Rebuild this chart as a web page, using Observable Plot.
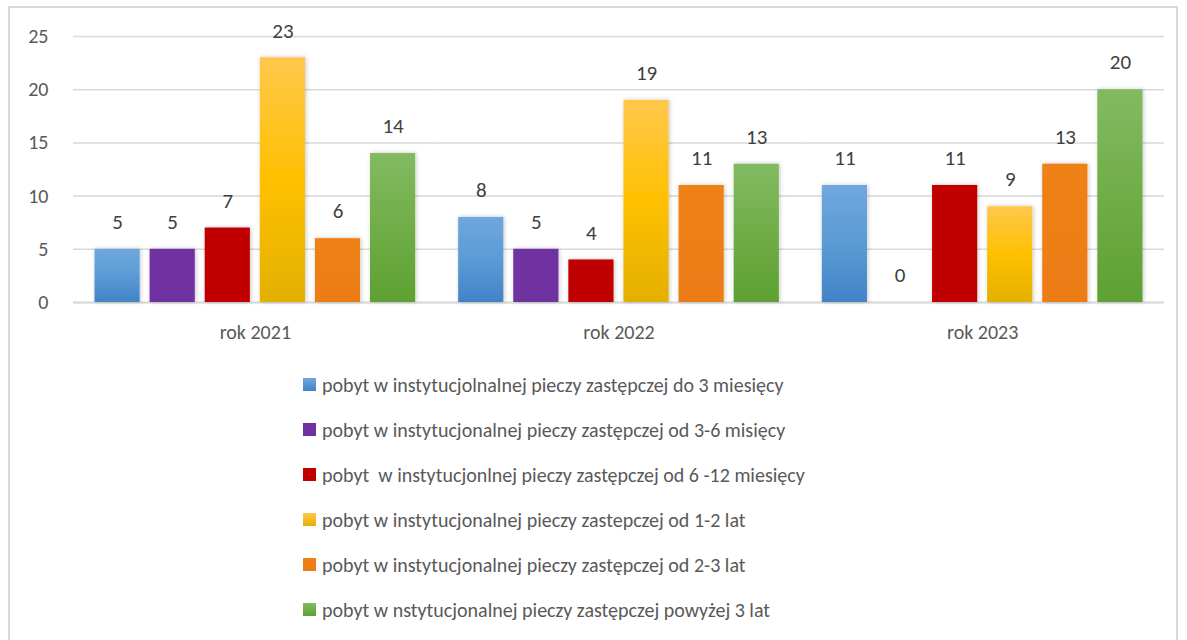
<!DOCTYPE html>
<html>
<head>
<meta charset="utf-8">
<script src="https://cdn.jsdelivr.net/npm/d3@7"></script>
<script src="https://cdn.jsdelivr.net/npm/@observablehq/plot@0.6"></script>
<style>
  html, body { margin: 0; padding: 0; background: #fff; }
  body { width: 1187px; height: 640px; position: relative; overflow: hidden;
         font-family: Carlito, Lato, "Open Sans", sans-serif; }
  #frame { position: absolute; left: 8px; top: 6px; width: 1170px; height: 700px;
           border: 2px solid #d9d9d9; box-sizing: border-box; }
  #chart { position: absolute; left: 0; top: 0; }
  #legend { position: absolute; left: 303px; top: 362px; }
  .row { height: 45px; display: flex; align-items: center; color: #595959; font-size: 20px; white-space: pre; }
  .sw { width: 13px; height: 13px; margin-right: 6px; flex: none; }
</style>
</head>
<body>
<div id="frame"></div>
<div id="chart"></div>
<div id="legend"></div>
<script>
const years = ["rok 2021", "rok 2022", "rok 2023"];
const seriesNames = [
  "pobyt w instytucjolnalnej pieczy zastępczej do 3 miesięcy",
  "pobyt w instytucjonalnej pieczy zastępczej od 3-6 misięcy",
  "pobyt  w instytucjonlnej pieczy zastępczej od 6 -12 miesięcy",
  "pobyt w instytucjonalnej pieczy zastepczej od 1-2 lat",
  "pobyt w instytucjonalnej pieczy zastępczej od 2-3 lat",
  "pobyt w nstytucjonalnej pieczy zastępczej powyżej 3 lat"
];
const values0 = [5, 8, 11];
const values1 = [5, 5, 0];
const values2 = [7, 4, 11];
const values3 = [23, 19, 9];
const values4 = [6, 11, 13];
const values5 = [14, 13, 20];
const yTicks = [0, 5, 10, 15, 20, 25];

const seriesValues = [values0, values1, values2, values3, values4, values5];
const gradients = [
  ["#70a7dd", "#5b9bd5", "#4283c7"],
  ["#7030a0", "#7030a0", "#7030a0"],
  ["#c00000", "#c00000", "#c00000"],
  ["#ffc84d", "#ffc000", "#e3b000"],
  ["#ef8119", "#ee7f17", "#ec7b14"],
  ["#83ba62", "#70ad47", "#5ea132"]
];

const data = [];
seriesNames.forEach((s, i) => {
  years.forEach((y, j) => data.push({year: y, series: s, si: i, value: seriesValues[i][j]}));
});

const chart = Plot.plot({
  width: 1187,
  height: 350,
  marginLeft: 73,
  marginRight: 23,
  marginTop: 36,
  marginBottom: 48,
  style: {fontFamily: "Carlito, Lato, 'Open Sans', sans-serif", fontSize: "20px", color: "#595959", background: "transparent"},
  fx: {domain: years, paddingInner: 0, paddingOuter: 0, round: false, label: null, tickSize: 0, tickPadding: 22},
  x: {domain: seriesNames, paddingInner: 0.18, paddingOuter: 0.39, round: false, axis: null},
  y: {domain: [0, 25], ticks: yTicks, label: null, tickSize: 0, tickPadding: 25},
  color: {type: "identity"},
  marks: [
    Plot.gridY(yTicks, {stroke: "#d9d9d9", strokeOpacity: 1, strokeWidth: 1.5}),
    Plot.axisY(yTicks, {tickSize: 0, tickPadding: 25, fontSize: 20, label: null}),
    Plot.ruleY([0], {stroke: "#d9d9d9", strokeWidth: 2}),
    Plot.barY(data.filter(d => d.value > 0), {fx: "year", x: "series", y: "value", fill: d => `url(#grad${d.si})`}),
    Plot.text(data, {fx: "year", x: "series", y: "value", text: d => String(d.value), dy: -27, fill: "#404040", fontSize: 21})
  ]
});

const svg = chart.tagName.toLowerCase() === "svg" ? chart : chart.querySelector("svg");
const ns = "http://www.w3.org/2000/svg";
const defs = document.createElementNS(ns, "defs");
gradients.forEach((g, i) => {
  const lg = document.createElementNS(ns, "linearGradient");
  lg.setAttribute("id", "grad" + i);
  lg.setAttribute("x1", "0"); lg.setAttribute("y1", "0");
  lg.setAttribute("x2", "0"); lg.setAttribute("y2", "1");
  [[0, g[0]], [0.5, g[1]], [1, g[2]]].forEach(([o, c]) => {
    const st = document.createElementNS(ns, "stop");
    st.setAttribute("offset", o); st.setAttribute("stop-color", c);
    lg.appendChild(st);
  });
  defs.appendChild(lg);
});
const filt = document.createElementNS(ns, "filter");
filt.setAttribute("id", "shadow");
filt.setAttribute("x", "-20%"); filt.setAttribute("y", "-10%");
filt.setAttribute("width", "140%"); filt.setAttribute("height", "120%");
const ds = document.createElementNS(ns, "feDropShadow");
ds.setAttribute("dx", "1"); ds.setAttribute("dy", "0");
ds.setAttribute("stdDeviation", "2"); ds.setAttribute("flood-color", "#000");
ds.setAttribute("flood-opacity", "0.22");
filt.appendChild(ds);
defs.appendChild(filt);
svg.insertBefore(defs, svg.firstChild);
svg.querySelectorAll('g[aria-label="bar"] rect').forEach(r => r.setAttribute("filter", "url(#shadow)"));

document.getElementById("chart").appendChild(chart);

const legend = document.getElementById("legend");
seriesNames.forEach((s, i) => {
  const row = document.createElement("div");
  row.className = "row";
  const sw = document.createElement("div");
  sw.className = "sw";
  sw.style.background = `linear-gradient(${gradients[i][0]}, ${gradients[i][2]})`;
  const t = document.createElement("span");
  t.textContent = s;
  row.appendChild(sw); row.appendChild(t);
  legend.appendChild(row);
});
</script>
</body>
</html>
